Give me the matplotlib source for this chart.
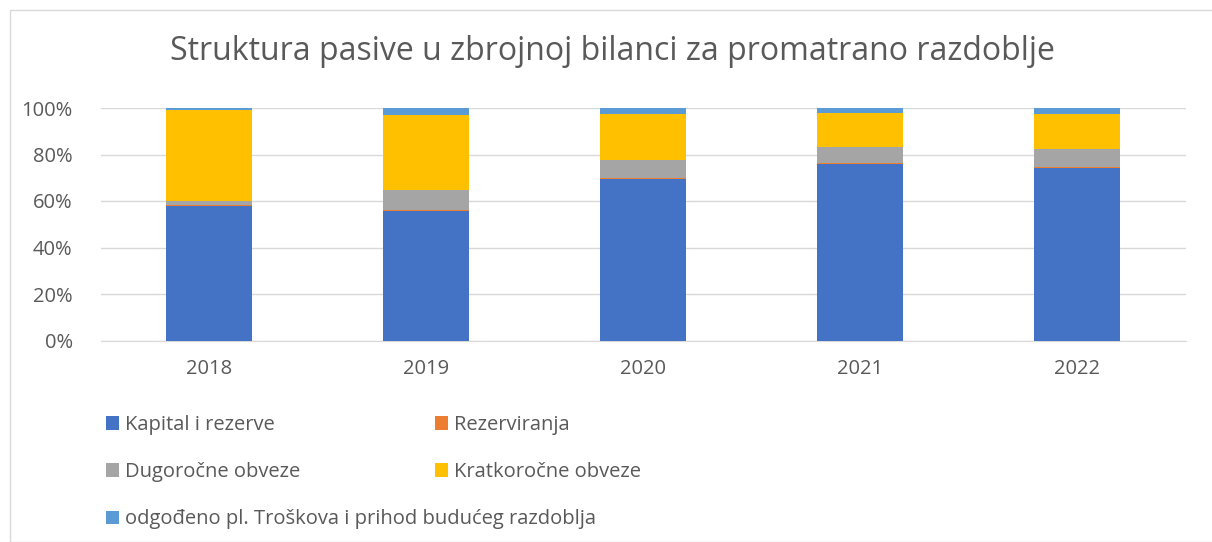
import matplotlib
matplotlib.use("Agg")
import matplotlib.pyplot as plt
from matplotlib.patches import Rectangle
from matplotlib.ticker import FuncFormatter
import numpy as np

years = ["2018", "2019", "2020", "2021", "2022"]
series_names = ["Kapital i rezerve", "Rezerviranja", "Dugoročne obveze",
                "Kratkoročne obveze", "odgođeno pl. Troškova i prihod budućeg razdoblja"]
kapital = [58.0, 55.8, 69.3, 76.0, 74.3]
rezerviranja = [0.3, 0.3, 0.5, 0.4, 0.4]
dugorocne = [1.7, 8.6, 8.0, 7.0, 7.8]
kratkorocne = [39.0, 32.3, 19.6, 14.3, 14.9]
odgodeno = [1.0, 3.0, 2.6, 2.3, 2.6]
colors = ["#4472C4", "#ED7D31", "#A5A5A5", "#FFC000", "#5B9BD5"]

plt.rcParams['font.family'] = ['Open Sans', 'DejaVu Sans']
text_color = "#595959"

fig = plt.figure(figsize=(12.12, 5.42), dpi=100)
ax = fig.add_axes([100.5/1212, 1 - 340.5/542, 1085/1212, 232.5/542])

x = np.arange(len(years))
data = [kapital, rezerviranja, dugorocne, kratkorocne, odgodeno]
bottom = np.zeros(len(years))
handles = []
for vals, name, col in zip(data, series_names, colors):
    v = np.array(vals)
    b = ax.bar(x, v, 0.4, bottom=bottom, color=col, label=name, zorder=3)
    handles.append(b)
    bottom += v

ax.set_xlim(-0.5, len(years) - 0.5)
ax.set_ylim(0, 100)
ax.set_yticks(np.arange(0, 101, 20))
ax.yaxis.set_major_formatter(FuncFormatter(lambda v, p: f"{int(v)}%"))
ax.set_xticks(x)
ax.set_xticklabels(years)
ax.grid(axis='y', color="#D9D9D9", linewidth=1, zorder=0)
for s in ["top", "right", "left"]:
    ax.spines[s].set_visible(False)
ax.spines["bottom"].set_color("#D9D9D9")
ax.tick_params(axis='both', length=0, labelsize=14.5, colors=text_color)
ax.tick_params(axis='x', pad=13)
ax.tick_params(axis='y', pad=20)

fig.text(0.505, 1 - 52/542, "Struktura pasive u zbrojnoj bilanci za promatrano razdoblje",
         ha='center', va='center', fontsize=23, color=text_color)

common = dict(loc='upper left', frameon=False, fontsize=14.5, handlelength=0.65,
              handleheight=0.65, handletextpad=0.3, labelspacing=1.35, borderaxespad=0,
              borderpad=0)
leg1 = fig.legend([handles[i] for i in [0, 2, 4]], [series_names[i] for i in [0, 2, 4]],
                  bbox_to_anchor=(106/1212, 1 - 415/542), **common)
leg2 = fig.legend([handles[i] for i in [1, 3]], [series_names[i] for i in [1, 3]],
                  bbox_to_anchor=(435/1212, 1 - 415/542), **common)
for leg in (leg1, leg2):
    for t in leg.get_texts():
        t.set_color(text_color)

fig.patches.append(Rectangle((10/1212, 0), 1.2, 1 - 10/542, transform=fig.transFigure,
                             fill=False, edgecolor="#D9D9D9", linewidth=1))

fig.savefig("out.png", dpi=100)
